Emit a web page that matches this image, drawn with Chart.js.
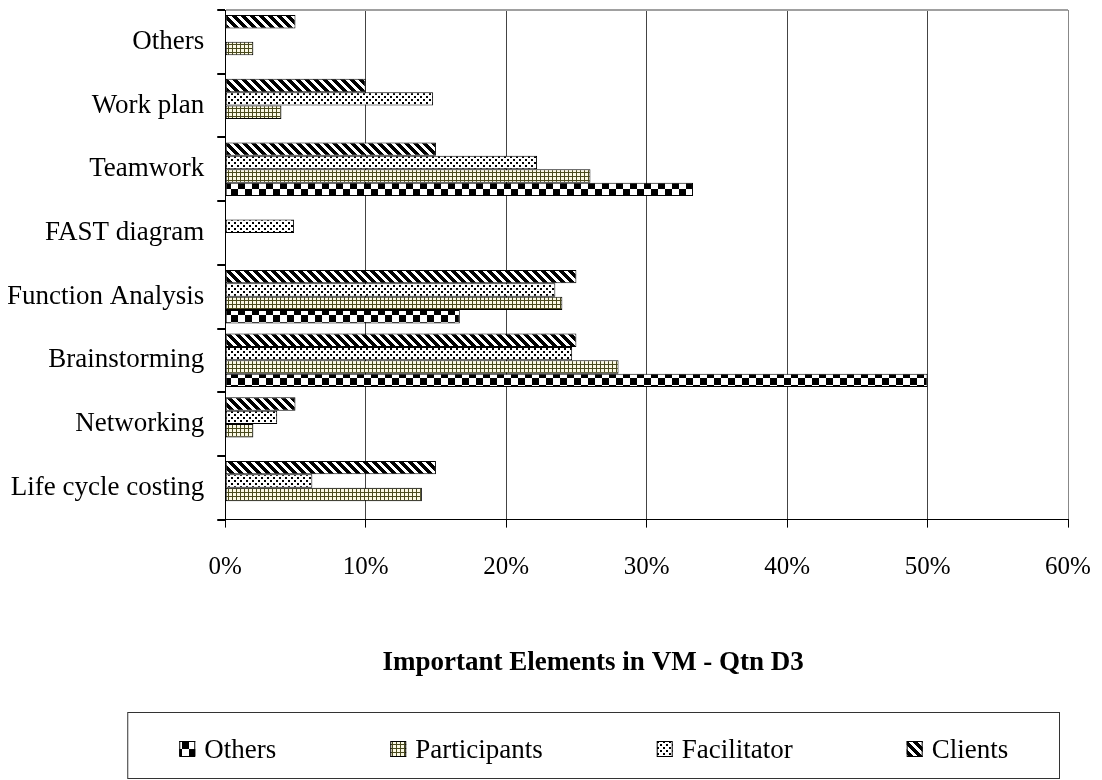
<!DOCTYPE html>
<html>
<head>
<meta charset="utf-8">
<title>Important Elements in VM - Qtn D3</title>
<script src="https://cdn.jsdelivr.net/npm/chart.js@4.4.1/dist/chart.umd.min.js"></script>
<style>
    html, body { margin: 0; padding: 0; background: #ffffff; }
    #wrap { width: 1102px; height: 780px; }
</style>
</head>
<body>
<div id="wrap"><canvas id="vmChart" width="1102" height="780"></canvas></div>
<script>
const categories = ['Others', 'Work plan', 'Teamwork', 'FAST diagram', 'Function Analysis', 'Brainstorming', 'Networking', 'Life cycle costing'];

// percent of respondents (top category first)
const clientsValues = [5, 10, 15, null, 25, 25, 5, 15];
const facilitatorValues = [null, 14.8, 22.2, 4.9, 23.5, 24.7, 3.7, 6.2];
const participantsValues = [2, 4, 26, null, 24, 28, 2, 14];
const othersValues = [null, null, 33.3, null, 16.7, 50, null, null];

const xTicks = [0, 10, 20, 30, 40, 50, 60];
const chartTitle = 'Important Elements in VM - Qtn D3';

const SERIF = '"Liberation Serif", "Times New Roman", serif';
const LEGEND_GAP = 114;

function makePattern(size, draw) {
    const c = document.createElement('canvas');
    c.width = size;
    c.height = size;
    const g = c.getContext('2d');
    draw(g, size);
    return g.createPattern(c, 'repeat');
}

const checkerFill = makePattern(14, (g) => {
    g.fillStyle = '#ffffff';
    g.fillRect(0, 0, 14, 14);
    g.fillStyle = '#000000';
    g.fillRect(0, 0, 7, 7);
    g.fillRect(7, 7, 7, 7);
});

const gridFill = makePattern(4, (g) => {
    g.fillStyle = '#fbf9e4';
    g.fillRect(0, 0, 4, 4);
    g.fillStyle = '#4a4a1e';
    g.fillRect(0, 0, 4, 1);
    g.fillRect(0, 0, 1, 4);
});

const dotFill = makePattern(6, (g) => {
    g.fillStyle = '#ffffff';
    g.fillRect(0, 0, 6, 6);
    g.fillStyle = '#000000';
    g.fillRect(0, 0, 2, 2);
    g.fillRect(3, 3, 2, 2);
});

const stripeFill = makePattern(9, (g) => {
    g.fillStyle = '#ffffff';
    g.fillRect(0, 0, 9, 9);
    g.fillStyle = '#000000';
    for (let y = 0; y < 9; y++) {
        for (let x = 0; x < 9; x++) {
            if ((x - y + 9) % 9 < 5) g.fillRect(x, y, 1, 1);
        }
    }
});

function legendBounds(chart) {
    const a = chart.chartArea;
    return {
        left: a.left - 98,
        right: a.right - 9,
        top: chart.height - 68,
        bottom: chart.height - 2
    };
}

// boxed legend under the title, series listed bottom-up like the bars
const boxedLegend = {
    id: 'boxedLegend',
    afterLayout(chart) {
        // title sits centred over the legend box, as in the original
        const t = chart.titleBlock;
        const b = legendBounds(chart);
        const shift = (b.left + b.right) / 2 - (t.left + t.right) / 2;
        t.left += shift;
        t.right += shift;
    },
    afterDraw(chart) {
        const { ctx } = chart;
        const b = legendBounds(chart);
        ctx.save();
        ctx.strokeStyle = '#333333';
        ctx.lineWidth = 1;
        ctx.strokeRect(b.left + 0.5, b.top + 0.5, b.right - b.left, b.bottom - b.top);

        ctx.font = '27px ' + SERIF;
        ctx.textBaseline = 'middle';
        const items = chart.data.datasets.slice().reverse();
        const widths = items.map(d => 16 + 9 + ctx.measureText(d.label).width);
        let x = b.left + 52;
        const cy = b.top + 37;
        items.forEach((d, i) => {
            ctx.fillStyle = d.backgroundColor;
            ctx.fillRect(x, cy - 8, 16, 16);
            ctx.strokeStyle = '#000000';
            ctx.strokeRect(x + 0.5, cy - 7.5, 15, 15);
            ctx.fillStyle = '#000000';
            ctx.fillText(d.label, x + 25, cy + 2);
            x += widths[i] + LEGEND_GAP;
        });
        ctx.restore();
    }
};

function barSeries(label, data, fill) {
    return {
        label,
        data,
        backgroundColor: fill,
        borderColor: '#000000',
        borderWidth: 1,
        borderSkipped: false,
        categoryPercentage: 0.84,
        barPercentage: 1.0
    };
}

new Chart(document.getElementById('vmChart'), {
    type: 'bar',
    data: {
        labels: categories,
        datasets: [
            barSeries('Clients', clientsValues, stripeFill),
            barSeries('Facilitator', facilitatorValues, dotFill),
            barSeries('Participants', participantsValues, gridFill),
            barSeries('Others', othersValues, checkerFill)
        ]
    },
    options: {
        indexAxis: 'y',
        responsive: false,
        animation: false,
        layout: {
            padding: { left: 8, right: 34, top: 10, bottom: 70 }
        },
        scales: {
            x: {
                min: xTicks[0],
                max: xTicks[xTicks.length - 1],
                afterBuildTicks: (scale) => {
                    scale.ticks = xTicks.map(v => ({ value: v }));
                },
                afterFit: (scale) => {
                    scale.paddingLeft = 0;
                    scale.paddingRight = 0;
                },
                border: { color: '#000000', width: 1 },
                grid: {
                    color: (c) => c.index === xTicks.length - 1 ? '#888888' : '#444444',
                    lineWidth: 1,
                    drawTicks: true,
                    tickLength: 8,
                    tickColor: '#000000'
                },
                ticks: {
                    color: '#000000',
                    padding: 25,
                    font: { family: SERIF, size: 25 },
                    callback: (value) => value + '%'
                }
            },
            y: {
                afterFit: (scale) => {
                    scale.paddingTop = 0;
                    scale.paddingBottom = 0;
                    scale.width -= 14;
                },
                border: { color: '#000000', width: 1 },
                grid: {
                    offset: true,
                    color: (c) => c.index === 0 ? '#a0a0a0' : 'rgba(0,0,0,0)',
                    lineWidth: 2,
                    drawTicks: true,
                    tickLength: 8,
                    tickColor: '#000000'
                },
                ticks: {
                    color: '#000000',
                    padding: 13,
                    font: { family: SERIF, size: 27 }
                }
            }
        },
        plugins: {
            legend: { display: false },
            tooltip: { enabled: false },
            title: {
                display: true,
                text: chartTitle,
                position: 'bottom',
                color: '#000000',
                font: { family: SERIF, size: 27, weight: 'bold' },
                padding: { top: 39, bottom: 31 }
            }
        }
    },
    plugins: [boxedLegend]
});
</script>
</body>
</html>
